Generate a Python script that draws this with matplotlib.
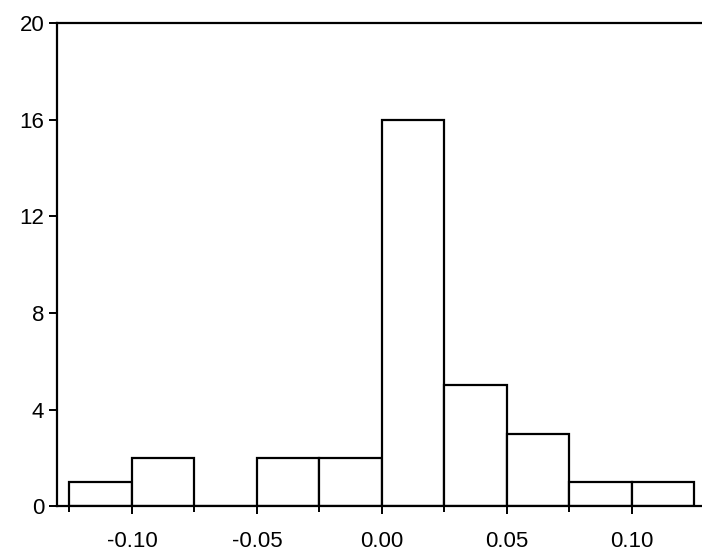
import numpy as np
import matplotlib.pyplot as plt

# histogram of returns (bin width 0.025)
bin_left = [-0.125, -0.100, -0.075, -0.050, -0.025, 0.000, 0.025, 0.050, 0.075, 0.100]
counts = [1, 2, 0, 2, 2, 16, 5, 3, 1, 1]
bin_width = 0.025
xticks = [-0.10, -0.05, 0.00, 0.05, 0.10]
xticklabels = ["-0.10", "-0.05", "0.00", "0.05", "0.10"]
yticks = [0, 4, 8, 12, 16, 20]

plt.rcParams['font.family'] = ['Liberation Sans', 'DejaVu Sans']

fig = plt.figure(figsize=(7.02, 5.55), dpi=100)
ax = fig.add_axes([0.081, 0.088, 0.919, 0.8706])

ax.bar(bin_left, counts, width=bin_width, align='edge',
       facecolor='white', edgecolor='black', linewidth=1.6)

ax.set_xlim(-0.13, 0.128)
ax.set_ylim(0, 20)
ax.set_xticks(xticks)
ax.set_xticklabels(xticklabels)
ax.set_xticks(np.array(bin_left), minor=True)
ax.set_yticks(yticks)

ax.spines['right'].set_visible(False)
for s in ['left', 'bottom', 'top']:
    ax.spines[s].set_linewidth(1.6)

ax.tick_params(axis='both', which='major', direction='out', length=6, width=1.4,
               labelsize=16, pad=3)
ax.tick_params(axis='x', which='minor', direction='out', length=4, width=1.4)
ax.tick_params(axis='x', which='major', pad=12)

fig.savefig("out.png", dpi=100)
